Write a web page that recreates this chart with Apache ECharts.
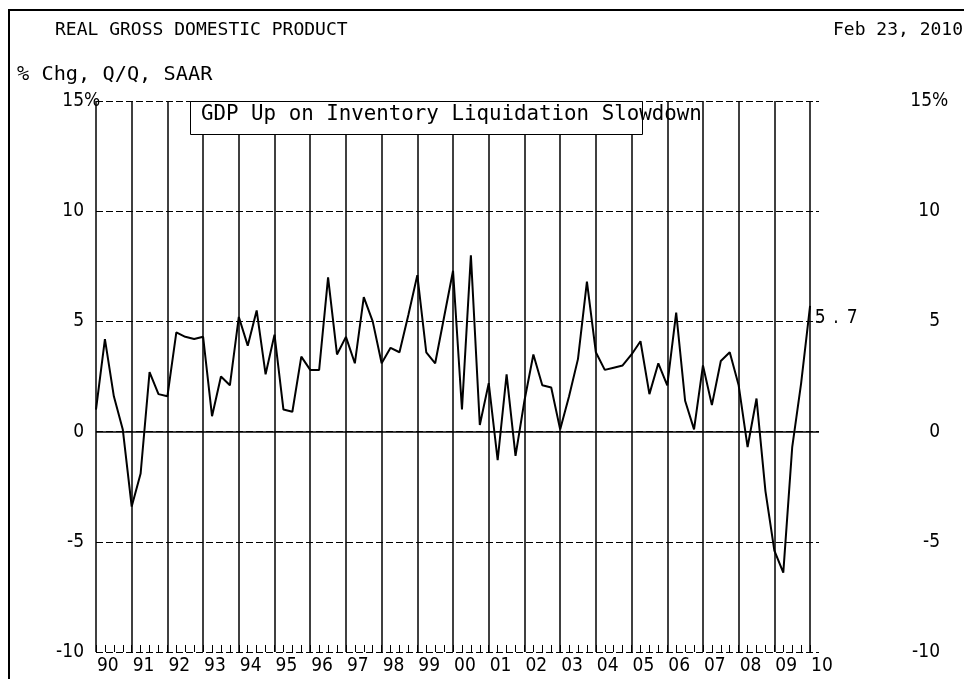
<!DOCTYPE html>
<html>
<head>
<meta charset="utf-8">
<script src="https://cdn.jsdelivr.net/npm/echarts@6/dist/echarts.min.js"></script>
<style>
html,body{margin:0;padding:0;background:#fff;}
#chart{width:964px;height:679px;}
</style>
</head>
<body>
<div id="chart"></div>
<script>
// Quarter labels (1989Q4 .. 2009Q4), plotted at the end of each quarter
const quarters = [
  '1989Q4',
  '1990Q1','1990Q2','1990Q3','1990Q4',
  '1991Q1','1991Q2','1991Q3','1991Q4',
  '1992Q1','1992Q2','1992Q3','1992Q4',
  '1993Q1','1993Q2','1993Q3','1993Q4',
  '1994Q1','1994Q2','1994Q3','1994Q4',
  '1995Q1','1995Q2','1995Q3','1995Q4',
  '1996Q1','1996Q2','1996Q3','1996Q4',
  '1997Q1','1997Q2','1997Q3','1997Q4',
  '1998Q1','1998Q2','1998Q3','1998Q4',
  '1999Q1','1999Q2','1999Q3','1999Q4',
  '2000Q1','2000Q2','2000Q3','2000Q4',
  '2001Q1','2001Q2','2001Q3','2001Q4',
  '2002Q1','2002Q2','2002Q3','2002Q4',
  '2003Q1','2003Q2','2003Q3','2003Q4',
  '2004Q1','2004Q2','2004Q3','2004Q4',
  '2005Q1','2005Q2','2005Q3','2005Q4',
  '2006Q1','2006Q2','2006Q3','2006Q4',
  '2007Q1','2007Q2','2007Q3','2007Q4',
  '2008Q1','2008Q2','2008Q3','2008Q4',
  '2009Q1','2009Q2','2009Q3','2009Q4'
];
// Real GDP, % change Q/Q, SAAR
const gdpGrowth = [
  1.0,
  4.2, 1.6, 0.1, -3.4,
  -1.9, 2.7, 1.7, 1.6,
  4.5, 4.3, 4.2, 4.3,
  0.7, 2.5, 2.1, 5.2,
  3.9, 5.5, 2.6, 4.4,
  1.0, 0.9, 3.4, 2.8,
  2.8, 7.0, 3.5, 4.3,
  3.1, 6.1, 5.0, 3.1,
  3.8, 3.6, 5.3, 7.1,
  3.6, 3.1, 5.2, 7.3,
  1.0, 8.0, 0.3, 2.2,
  -1.3, 2.6, -1.1, 1.4,
  3.5, 2.1, 2.0, 0.1,
  1.6, 3.3, 6.8, 3.6,
  2.8, 2.9, 3.0, 3.5,
  4.1, 1.7, 3.1, 2.1,
  5.4, 1.4, 0.1, 3.0,
  1.2, 3.2, 3.6, 2.1,
  -0.7, 1.5, -2.7, -5.4,
  -6.4, -0.7, 2.2, 5.7
];
// Year boundaries drawn as vertical lines
const yearLines = [1990,1991,1992,1993,1994,1995,1996,1997,1998,1999,2000,
                   2001,2002,2003,2004,2005,2006,2007,2008,2009,2010];
const yTicks = [-10, -5, 0, 5, 10, 15];

const titleText = 'REAL GROSS DOMESTIC PRODUCT';
const dateText = 'Feb 23, 2010';
const unitText = '% Chg, Q/Q, SAAR';
const noteText = 'GDP Up on Inventory Liquidation Slowdown';

// position each quarter at its end (e.g. 1990Q1 -> 1990.25)
function quarterEnd(q) {
  const y = parseInt(q.slice(0, 4), 10);
  const n = parseInt(q.slice(5), 10);
  return y + n * 0.25;
}
const lineData = quarters.map((q, i) => [quarterEnd(q), gdpGrowth[i]]);

const numFont = "'Liberation Sans Narrow','DejaVu Sans Condensed','Liberation Sans',sans-serif";
const monoFont = "'DejaVu Sans Mono',monospace";
const dash = [7, 3];

const chart = echarts.init(document.getElementById('chart'), null, {renderer: 'canvas'});
chart.setOption({
  animation: false,
  backgroundColor: '#fff',
  grid: {left: 96, right: 145, top: 101, bottom: 27, containLabel: false},
  xAxis: {
    type: 'value',
    min: 1990,
    max: 2010.25,
    interval: 0.25,
    position: 'bottom',
    axisLine: {show: false, onZero: false},
    axisTick: {show: true, inside: true, length: 7, lineStyle: {color: '#000', width: 1}},
    splitLine: {show: false},
    axisLabel: {
      show: true,
      align: 'left',
      margin: 5,
      padding: [0, 0, 0, 1],
      color: '#000',
      fontFamily: numFont,
      fontSize: 19,
      showMinLabel: true,
      showMaxLabel: false,
      formatter: function (v) {
        if (Math.abs(v - Math.round(v)) > 1e-6) return '';
        const y = Math.round(v);
        if (yearLines.indexOf(y) < 0) return '';
        return String(y % 100).padStart(2, '0');
      }
    }
  },
  yAxis: [
    {
      type: 'value',
      position: 'left',
      min: -10,
      max: 15,
      interval: 5,
      axisLine: {show: false},
      axisTick: {show: false},
      splitLine: {show: true, lineStyle: {color: '#000', type: dash, width: 1}},
      axisLabel: {
        color: '#000',
        fontFamily: numFont,
        fontSize: 19,
        margin: 12,
        formatter: function (v) {
          if (v === 15) return '{n|15}{p|%}';
          return String(v);
        },
        rich: {
          n: {align: 'left', fontFamily: numFont, fontSize: 19, color: '#000'},
          p: {align: 'left', width: 0, fontFamily: numFont, fontSize: 19, color: '#000'}
        }
      }
    },
    {
      type: 'value',
      position: 'right',
      min: -10,
      max: 15,
      interval: 5,
      axisLine: {show: false},
      axisTick: {show: false},
      splitLine: {show: false},
      axisLabel: {
        color: '#000',
        fontFamily: numFont,
        fontSize: 19,
        margin: 121,
        align: 'right',
        formatter: function (v) {
          if (v === 15) return '{n|15}{p|%}';
          return String(v);
        },
        rich: {
          n: {align: 'left', fontFamily: numFont, fontSize: 19, color: '#000'},
          p: {align: 'left', width: 8, fontFamily: numFont, fontSize: 19, color: '#000'}
        }
      }
    }
  ],
  series: [
    {
      type: 'line',
      data: lineData,
      xAxisIndex: 0,
      yAxisIndex: 0,
      symbol: 'none',
      lineStyle: {color: '#000', width: 2},
      emphasis: {disabled: true},
      silent: true,
      z: 5,
      endLabel: {
        show: true,
        distance: 2,
        offset: [0, 12],
        color: '#000',
        formatter: function (p) {
          const s = p.value[1].toFixed(1);
          return s.split('').map(c => '{d|' + c + '}').join('');
        },
        rich: {
          d: {width: 16, align: 'center', fontFamily: numFont, fontSize: 19, color: '#000'}
        }
      },
      markLine: {
        silent: true,
        symbol: ['none', 'none'],
        label: {show: false},
        emphasis: {disabled: true},
        lineStyle: {color: '#000', type: 'solid', width: 1.5},
        data: yearLines.map(y => ({xAxis: y})).concat([{yAxis: 0}])
      }
    }
  ],
  graphic: [
    {
      type: 'rect',
      z: 200,
      silent: true,
      shape: {x: 9, y: 10, width: 1000, height: 700},
      style: {fill: 'none', stroke: '#000', lineWidth: 2}
    },
    {
      type: 'text',
      z: 200,
      x: 55, y: 30,
      style: {text: titleText, font: "18px 'DejaVu Sans Mono', monospace", fill: '#000', verticalAlign: 'middle'}
    },
    {
      type: 'text',
      z: 200,
      x: 963, y: 30,
      style: {text: dateText, font: "18px 'DejaVu Sans Mono', monospace", fill: '#000', align: 'right', verticalAlign: 'middle'}
    },
    {
      type: 'text',
      z: 200,
      x: 17, y: 75,
      style: {text: unitText, font: "20.3px 'DejaVu Sans Mono', monospace", fill: '#000', verticalAlign: 'middle'}
    },
    {
      type: 'rect',
      z: 150,
      silent: true,
      shape: {x: 190.5, y: 101.5, width: 452, height: 33},
      style: {fill: '#fff', stroke: '#000', lineWidth: 1}
    },
    {
      type: 'text',
      z: 160,
      x: 201, y: 115,
      style: {text: noteText, font: "20.8px 'DejaVu Sans Mono', monospace", fill: '#000', verticalAlign: 'middle'}
    }
  ]
});
</script>
</body>
</html>
